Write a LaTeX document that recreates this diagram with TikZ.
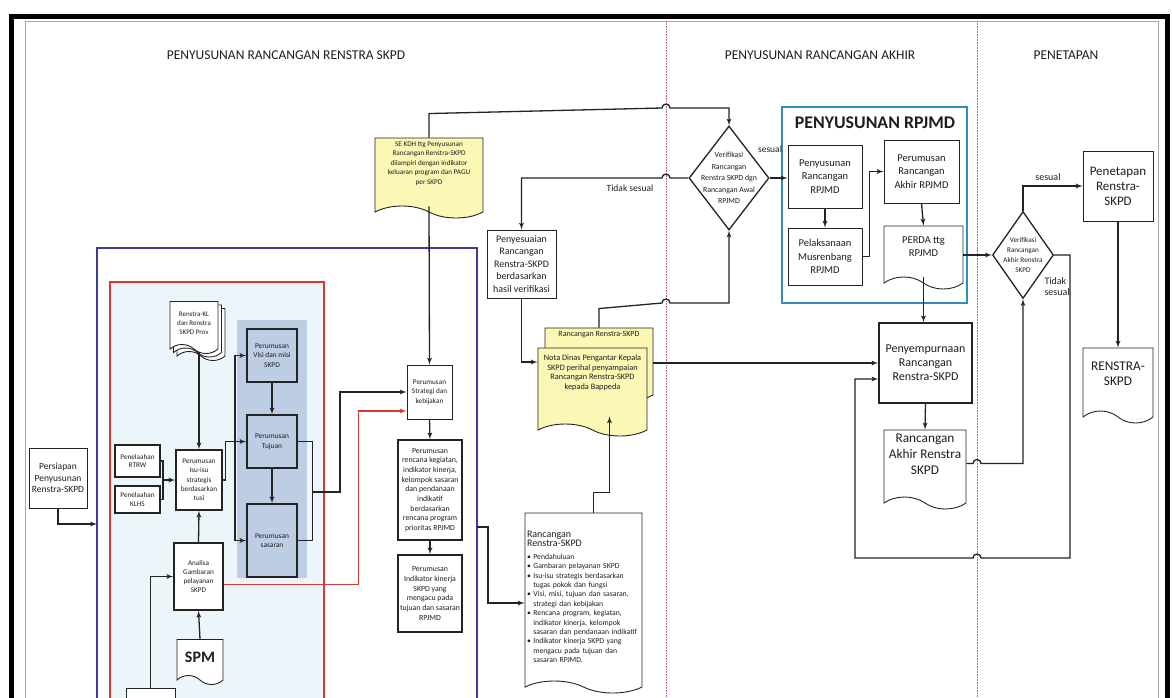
\documentclass[tikz,border=0pt]{standalone}
\usepackage{fontspec}
\setmainfont{Carlito}
\usetikzlibrary{shapes,shapes.symbols,shapes.geometric,arrows,calc,shadows,positioning}

\definecolor{docyellow}{RGB}{252,247,180}
\definecolor{paleblue}{RGB}{236,245,250}
\definecolor{colshade}{RGB}{188,205,228}
\definecolor{framenavy}{RGB}{60,60,150}
\definecolor{framered}{RGB}{222,52,52}
\definecolor{framecyan}{RGB}{50,140,190}
\definecolor{sepred}{RGB}{190,90,90}
\definecolor{boxline}{RGB}{35,35,35}
\definecolor{textcol}{RGB}{30,30,30}

\newcommand{\fsz}[2]{\fontsize{#1}{#2}\selectfont}

\begin{document}
\begin{tikzpicture}[x=1pt,y=-1pt]
	\tikzstyle{process} = [rectangle, draw=boxline, fill=white, text=textcol, align=center, inner sep=1pt, line width=0.9pt]
	\tikzstyle{heavy} = [process, line width=1.6pt]
	\tikzstyle{colbox} = [heavy, fill=colshade, minimum width=50, font=\fsz{7.4}{9.5}]
	\tikzstyle{document} = [tape, tape bend top=none, tape bend bottom=out and in, tape bend height=12pt, draw=boxline, fill=white, text=textcol, align=center, inner sep=1pt, line width=0.9pt]
	\tikzstyle{decision} = [diamond, draw=boxline, fill=white, text=textcol, align=center, line width=1.3pt]
	\tikzstyle{connector} = [draw=boxline, line width=1.3pt, -latex']
	\tikzstyle{wire} = [draw=boxline, line width=1.3pt]
	\tikzstyle{header} = [font=\fsz{13.5}{15}, text=textcol]
	\tikzstyle{sepline} = [draw=sepred, densely dotted, line width=0.6pt]
\useasboundingbox (0,0) rectangle (1172,697);
\fill[white] (0,0) rectangle (1172,697);
% frames
\draw[gray!70, line width=0.8pt] (25,21) rectangle (1158,710);
\draw[line width=5pt] (11,700) -- (11,16) -- (1167,16) -- (1167,700);
\draw[sepline] (666,21) -- (666,697);
\draw[sepline] (977,21) -- (977,697);
\node[header] (h1) at (286,55) {PENYUSUNAN RANCANGAN RENSTRA SKPD};
\node[header] (h2) at (820,55) {PENYUSUNAN RANCANGAN AKHIR};
\node[header] (h3) at (1066,55) {PENETAPAN};
\draw[framenavy, line width=1.2pt] (97,248) rectangle (477,710);
\draw[framered, fill=paleblue, line width=1.2pt] (110,282) rectangle (324,710);
\fill[colshade] (237,320) rectangle (307,578);
\draw[framecyan, line width=1.5pt] (782,107) rectangle (967,303);
\coordinate (bluein) at (97,524);
\coordinate (blueout) at (477,527);
\coordinate (jrt) at (163,480);
\coordinate (jv) at (235,441.5);
\coordinate (jt) at (312,492);
\coordinate (kanan) at (1070,558);
\coordinate (kiri) at (855,558);

% left part
\node [process, minimum width=58, minimum height=60, font=\fsz{9.5}{11.5}] (persiapan) at (58,478) {Persiapan\\Penyusunan\\Renstra-SKPD};
\node [heavy, minimum width=45, minimum height=32, font=\fsz{7.2}{8.5}] (rtrw) at (137.5,461) {Penelaahan\\RTRW};
\node [heavy, minimum width=45, minimum height=27, font=\fsz{7.2}{8.5}] (klhs) at (137.5,499.5) {Penelaahan\\KLHS};
\node [heavy, minimum width=46, minimum height=60, font=\fsz{7.2}{9.3}] (isu) at (199,480) {Perumusan\\Isu-isu\\strategis\\berdasarkan\\tusi};
\node [heavy, minimum width=49, minimum height=67, font=\fsz{7.2}{9.3}] (analisa) at (198.5,576.5) {Analisa\\Gambaran\\pelayanan\\SKPD};
\node [document, tape bend height=9pt, minimum width=46, minimum height=45, font=\bfseries\fsz{16}{18}] (spm) at (200,657.5) {SPM};
\node [process, minimum width=49, minimum height=30] (dasar) at (150.5,703) {};
\node [document, tape bend height=9pt, double copy shadow={shadow xshift=3.5pt, shadow yshift=-3.5pt}, minimum width=48, minimum height=52, font=\fsz{7}{9}] (renstrakl) at (194,323) {Renstra-KL\\dan Renstra\\SKPD Prov};
\node [colbox, minimum height=53] (visi) at (272,355.5) {Perumusan\\Visi dan misi\\SKPD};
\node [colbox, minimum height=53] (tujuan) at (272,441.5) {Perumusan\\Tujuan};
\node [colbox, minimum height=73] (sasaran) at (272,540.5) {Perumusan\\sasaran};
\node [process, minimum width=45, minimum height=54, font=\fsz{7.2}{9.3}] (strategi) at (429.5,392) {Perumusan\\Strategi dan\\kebijakan};
\node [heavy, minimum width=64, minimum height=100, font=\fsz{7.8}{9.7}] (rencana) at (430,490) {Perumusan\\rencana kegiatan,\\indikator kinerja,\\kelompok sasaran\\dan pendanaan\\indikatif\\berdasarkan\\rencana program\\prioritas RPJMD};
\node [heavy, minimum width=64, minimum height=77, font=\fsz{7.8}{9.7}] (indikator) at (430,593.5) {Perumusan\\Indikator kinerja\\SKPD yang\\mengacu pada\\tujuan dan sasaran\\RPJMD};
\node [document, fill=docyellow, minimum width=108, minimum height=80, text depth=18pt, font=\fsz{7.2}{9.5}] (sekdh) at (429,172) {SE KDH ttg Penyusunan\\Rancangan Renstra-SKPD\\dilampiri dengan indikator\\keluaran program dan PAGU\\per SKPD};

% middle part
\node [process, minimum width=69, minimum height=68, font=\fsz{10}{12.5}] (penyesuaian) at (521.5,264) {Penyesuaian\\Rancangan\\Renstra-SKPD\\berdasarkan\\hasil verifikasi};
\node [document, fill=docyellow, minimum width=108, minimum height=73, text depth=50pt, font=\fsz{8}{9}] (draft) at (599,358.5) {Rancangan Renstra-SKPD};
\node [document, fill=docyellow, minimum width=109, minimum height=88, text depth=28pt, font=\fsz{8.3}{9.5}] (nota) at (592.5,386) {Nota Dinas Pengantar Kepala\\SKPD perihal penyampaian\\Rancangan Renstra-SKPD\\kepada Bappeda};
\node [document, minimum width=117, minimum height=180, text width=113, align=left, font=\fsz{7.7}{9.4}] (rancdoc) at (583.5,597) {{\fsz{10}{10.5}Rancangan\\Renstra-SKPD}\\[3pt]
\textbullet\ Pendahuluan\\
\textbullet\ Gambaran pelayanan SKPD\\
\textbullet\ Isu-isu strategis berdasarkan\\
\hphantom{\textbullet\ }tugas pokok dan fungsi\\
\textbullet\ Visi, misi, tujuan dan sasaran,\\
\hphantom{\textbullet\ }strategi dan kebijakan\\
\textbullet\ Rencana program, kegiatan,\\
\hphantom{\textbullet\ }indikator kinerja, kelompok\\
\hphantom{\textbullet\ }\mbox{sasaran dan pendanaan indikatif}\\
\textbullet\ Indikator kinerja SKPD yang\\
\hphantom{\textbullet\ }mengacu pada tujuan dan\\
\hphantom{\textbullet\ }sasaran RPJMD.};
\node [decision, inner sep=-12pt, minimum width=80, minimum height=104, font=\fsz{7.8}{11.5}] (verif1) at (729,178) {Verifikasi\\Rancangan\\Renstra SKPD dgn\\Rancangan Awal\\RPJMD};
\node [font=\fsz{9.5}{10}, text=textcol] (lblsesuai) at (770,149) {sesual};
\node [font=\fsz{9.5}{10}, text=textcol] (lbltidak) at (630,188) {Tidak sesual};

% rpjmd
\node [font=\bfseries\fsz{17.8}{19}, text=textcol] (rpjmdtitle) at (875,123) {PENYUSUNAN RPJMD};
\node [process, minimum width=74, minimum height=63, font=\fsz{10.5}{13.3}] (penyusunan) at (825,176.5) {Penyusunan\\Rancangan\\RPJMD};
\node [process, minimum width=74, minimum height=57, font=\fsz{10.5}{13.3}] (pelaksanaan) at (825,256.5) {Pelaksanaan\\Musrenbang\\RPJMD};
\node [process, minimum width=75, minimum height=63, font=\fsz{10.5}{13.3}] (perumusanakhir) at (921.5,171.5) {Perumusan\\Rancangan\\Akhir RPJMD};
\node [document, minimum width=79, minimum height=63, text depth=10pt, font=\fsz{10.5}{13.3}] (perda) at (923.5,251.5) {PERDA ttg\\RPJMD};
\node [heavy, minimum width=93, minimum height=80, font=\fsz{12}{14}] (penyempurnaan) at (925.5,363) {Penyempurnaan\\Rancangan\\Renstra-SKPD};
\node [document, minimum width=82, minimum height=79, text depth=18pt, font=\fsz{13.3}{16}] (akhirdoc) at (925,463.5) {Rancangan\\Akhir Renstra\\SKPD};

% penetapan
\node [decision, inner sep=-8pt, minimum width=61, minimum height=87, font=\fsz{7.2}{10}] (verif2) at (1023,255) {Verifikasi\\Rancangan\\Akhir Renstra\\SKPD};
\node [process, minimum width=70, minimum height=70, font=\fsz{13}{15}] (penetapan) at (1118,186) {Penetapan\\Renstra-\\SKPD};
\node [document, minimum width=70, minimum height=75, text depth=12pt, font=\fsz{13.3}{15}] (renstradoc) at (1118,379.5) {RENSTRA-\\SKPD};
\node [font=\fsz{10}{11}, text=textcol] (lblsesuai2) at (1048,177) {sesual};
\node [font=\fsz{10}{11}, text=textcol, align=left, anchor=west] (lbltidak2) at (1041,287) {Tidak\\sesual};

% connectors
\path [connector] (persiapan.south) |- (bluein);
\path [wire] (rtrw.east) -| (jrt);
\path [wire] (klhs.east) -| (jrt);
\path [connector] (jrt) -- (isu.west);
\path [connector] ($(renstrakl.south -| isu.north)+(0,7)$) -- (isu.north);
\path [connector] (analisa.north) -- (isu.south);
\path [connector] (spm.north) -- (analisa.south);
\path [connector] (dasar.north) |- (analisa.west);
\path [wire] (isu.east) -- ++(3,0) |- (jv);
\path [connector] (jv) |- (visi.west);
\path [connector] (jv) -- (tujuan.west);
\path [connector] (jv) |- (sasaran.west);
\path [connector] (visi.south) -- (tujuan.north);
\path [connector] (tujuan.south) -- (sasaran.north);
\path [wire] (tujuan.east) -- ++(15,0) |- (sasaran.east);
\path [connector] (jt) -- ++(28,0) |- (strategi.west);
\path [connector, draw=framered] ($(analisa.east)+(0,8)$) -- ++(135,0) |- ($(strategi.west)+(0,19)$);
\path [connector] (sekdh.south) -- (strategi.north);
\path [connector] (strategi.south) -- (rencana.north);
\path [connector] (rencana.south) -- (indikator.north);
\path [connector] (blueout) -- ++(11,0) |- ($(rancdoc.west)+(0,6)$);
\path [connector] ($(rancdoc.north)+(10,0)$) -- ++(0,-20) -| ($(nota.south)+(17,-8)$);
\path [connector] (draft.north) -- ++(0,-19) -- (662,303) arc[start angle=180, end angle=0, radius=4pt] -| (verif1.south);
\path [connector] (penyesuaian.south) |- ($(nota.west)+(0,-24)$);
\path [connector] (verif1.west) -- (670,178) arc[start angle=0, end angle=180, radius=4pt] -| (penyesuaian.north);
\path [connector] (verif1.east) -- (verif1.east -| penyusunan.west);
\path [connector] (sekdh.north) -- ++(0,-24) -- (662,108) arc[start angle=180, end angle=0, radius=4pt] -| (verif1.north);
\path [connector] (draft.east |- penyempurnaan.west) -- (penyempurnaan.west);
\path [connector] (penyusunan.south) -- (pelaksanaan.north);
\path [connector] (pelaksanaan.east) -- ++(7,0) |- (perumusanakhir.west);
\path [connector] (perumusanakhir.south) -- (perda.north);
\path [connector] (perda.south) -- (perda.south |- penyempurnaan.north);
\path [connector] (perda.east |- verif2.west) -- (verif2.west);
\path [connector] (verif2.north) |- (penetapan.west);
\path [connector] (penetapan.south) -- (renstradoc.north);
\path [connector] (verif2.east) -| (kanan) -- (981,558) arc[start angle=0, end angle=180, radius=4pt] -- (kiri) |- ($(penyempurnaan.west)+(0,16)$);
\path [connector] (penyempurnaan.south) -- (akhirdoc.north);
\path [connector] (akhirdoc.east) -- (973,463.5) arc[start angle=180, end angle=0, radius=4pt] -| (verif2.south);
\end{tikzpicture}
\end{document}
